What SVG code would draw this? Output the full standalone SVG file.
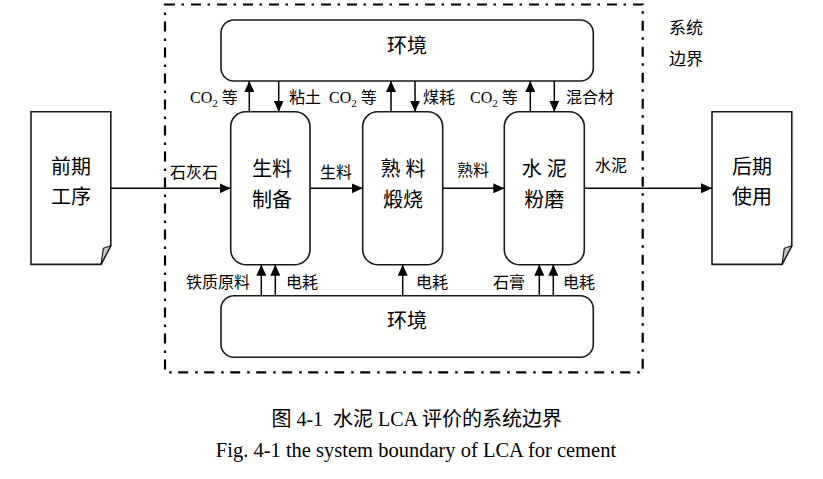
<svg xmlns="http://www.w3.org/2000/svg" width="823" height="479" viewBox="0 0 823 479">
<style>
.box{fill:#fff;stroke:#1a1a1a;stroke-width:1.6}
.ln{fill:none;stroke:#000;stroke-width:1.5}
.t{font-family:"Liberation Serif","Noto Sans CJK SC",serif;fill:#000}
.lb{font-size:16px}
.nd{font-size:20px;text-anchor:middle}
.fold{fill:#c8c8c8;stroke:#1a1a1a;stroke-width:1.2;stroke-linejoin:round}
</style>
<defs>
<marker id="ah" viewBox="0 0 11 10" refX="11" refY="5" markerWidth="11" markerHeight="10" markerUnits="userSpaceOnUse" orient="auto">
<path d="M0,0 L11,5 L0,10 Z" fill="#000"/>
</marker>
</defs>
<rect width="823" height="479" fill="#fff"/>

<g id="boundary">
<rect x="165" y="4.5" width="477.7" height="367.8" fill="none" stroke="#000" stroke-width="2.2" stroke-dasharray="10 6.5 2.5 7"/>
<text class="t" x="669" y="33.5" font-size="17">系统</text>
<text class="t" x="669" y="64.5" font-size="17">边界</text>
</g>

<g id="env-top">
<rect class="box" x="221" y="20" width="372.3" height="61" rx="13"/>
<text class="t nd" x="407" y="52.6">环境</text>
</g>
<g id="env-bottom">
<rect class="box" x="221" y="295.7" width="372.3" height="61.6" rx="13"/>
<text class="t nd" x="407" y="328">环境</text>
</g>

<g id="raw-prep">
<rect class="box" x="230.7" y="111.7" width="79.3" height="153" rx="15"/>
<text class="t nd" x="272" y="175.6">生料</text>
<text class="t nd" x="272" y="206.6">制备</text>
</g>
<g id="clinker">
<rect class="box" x="362.7" y="111.7" width="80" height="153" rx="15"/>
<text class="t nd" x="403" y="175.6">熟 料</text>
<text class="t nd" x="403" y="206.6">煅烧</text>
</g>
<g id="grinding">
<rect class="box" x="504.3" y="111.7" width="80" height="153" rx="15"/>
<text class="t nd" x="544.3" y="175.6">水 泥</text>
<text class="t nd" x="544.3" y="206.6">粉磨</text>
</g>

<g id="pre-process">
<path class="box" d="M31,111.7 H110.8 V245.7 L101,264.4 H31 Z"/>
<path class="fold" d="M110.8,245.7 L103.3,248.3 L101,264.4 Z"/>
<text class="t nd" x="71" y="173.6">前期</text>
<text class="t nd" x="71" y="203.6">工序</text>
</g>
<g id="post-use">
<path class="box" d="M712,111.7 H791.8 V245.7 L782,264.4 H712 Z"/>
<path class="fold" d="M791.8,245.7 L784.3,248.3 L782,264.4 Z"/>
<text class="t nd" x="752" y="173.6">后期</text>
<text class="t nd" x="752" y="203.6">使用</text>
</g>

<g id="connectors">
<line class="ln" x1="111" y1="188.3" x2="230.7" y2="188.3" marker-end="url(#ah)"/>
<line class="ln" x1="310" y1="188.3" x2="362.7" y2="188.3" marker-end="url(#ah)"/>
<line class="ln" x1="442.7" y1="188.3" x2="504.3" y2="188.3" marker-end="url(#ah)"/>
<line class="ln" x1="584.3" y1="188.3" x2="712" y2="188.3" marker-end="url(#ah)"/>

<line class="ln" x1="249.3" y1="111.7" x2="249.3" y2="81" marker-end="url(#ah)"/>
<line class="ln" x1="278.7" y1="81" x2="278.7" y2="111.7" marker-end="url(#ah)"/>
<line class="ln" x1="391" y1="111.7" x2="391" y2="81" marker-end="url(#ah)"/>
<line class="ln" x1="415" y1="81" x2="415" y2="111.7" marker-end="url(#ah)"/>
<line class="ln" x1="530.3" y1="111.7" x2="530.3" y2="81" marker-end="url(#ah)"/>
<line class="ln" x1="554.3" y1="81" x2="554.3" y2="111.7" marker-end="url(#ah)"/>

<line class="ln" x1="261.3" y1="295.7" x2="261.3" y2="264.7" marker-end="url(#ah)"/>
<line class="ln" x1="275.3" y1="295.7" x2="275.3" y2="264.7" marker-end="url(#ah)"/>
<line class="ln" x1="402.7" y1="295.7" x2="402.7" y2="264.7" marker-end="url(#ah)"/>
<line class="ln" x1="539.3" y1="295.7" x2="539.3" y2="264.7" marker-end="url(#ah)"/>
<line class="ln" x1="553.3" y1="295.7" x2="553.3" y2="264.7" marker-end="url(#ah)"/>
</g>

<g id="labels">
<text class="t lb" x="190" y="103">CO<tspan font-size="11" dy="4">2</tspan><tspan dy="-4"> 等</tspan></text>
<text class="t lb" x="289" y="103">粘土</text>
<text class="t lb" x="329" y="103">CO<tspan font-size="11" dy="4">2</tspan><tspan dy="-4"> 等</tspan></text>
<text class="t lb" x="423" y="103">煤耗</text>
<text class="t lb" x="470" y="103">CO<tspan font-size="11" dy="4">2</tspan><tspan dy="-4"> 等</tspan></text>
<text class="t lb" x="566" y="103">混合材</text>
<text class="t lb" x="170" y="178">石灰石</text>
<text class="t lb" x="320" y="178">生料</text>
<text class="t lb" x="457" y="176">熟料</text>
<text class="t lb" x="595" y="171">水泥</text>
<text class="t lb" x="186" y="288">铁质原料</text>
<text class="t lb" x="286" y="288">电耗</text>
<text class="t lb" x="416" y="288">电耗</text>
<text class="t lb" x="493" y="288">石膏</text>
<text class="t lb" x="563" y="288">电耗</text>
</g>

<g id="caption">
<text class="t" x="416.7" y="426" font-size="20" text-anchor="middle" xml:space="preserve">图 4-1  水泥 LCA 评价的系统边界</text>
<text class="t" x="416" y="456.5" font-size="20.5" text-anchor="middle">Fig. 4-1 the system boundary of LCA for cement</text>
</g>
</svg>
